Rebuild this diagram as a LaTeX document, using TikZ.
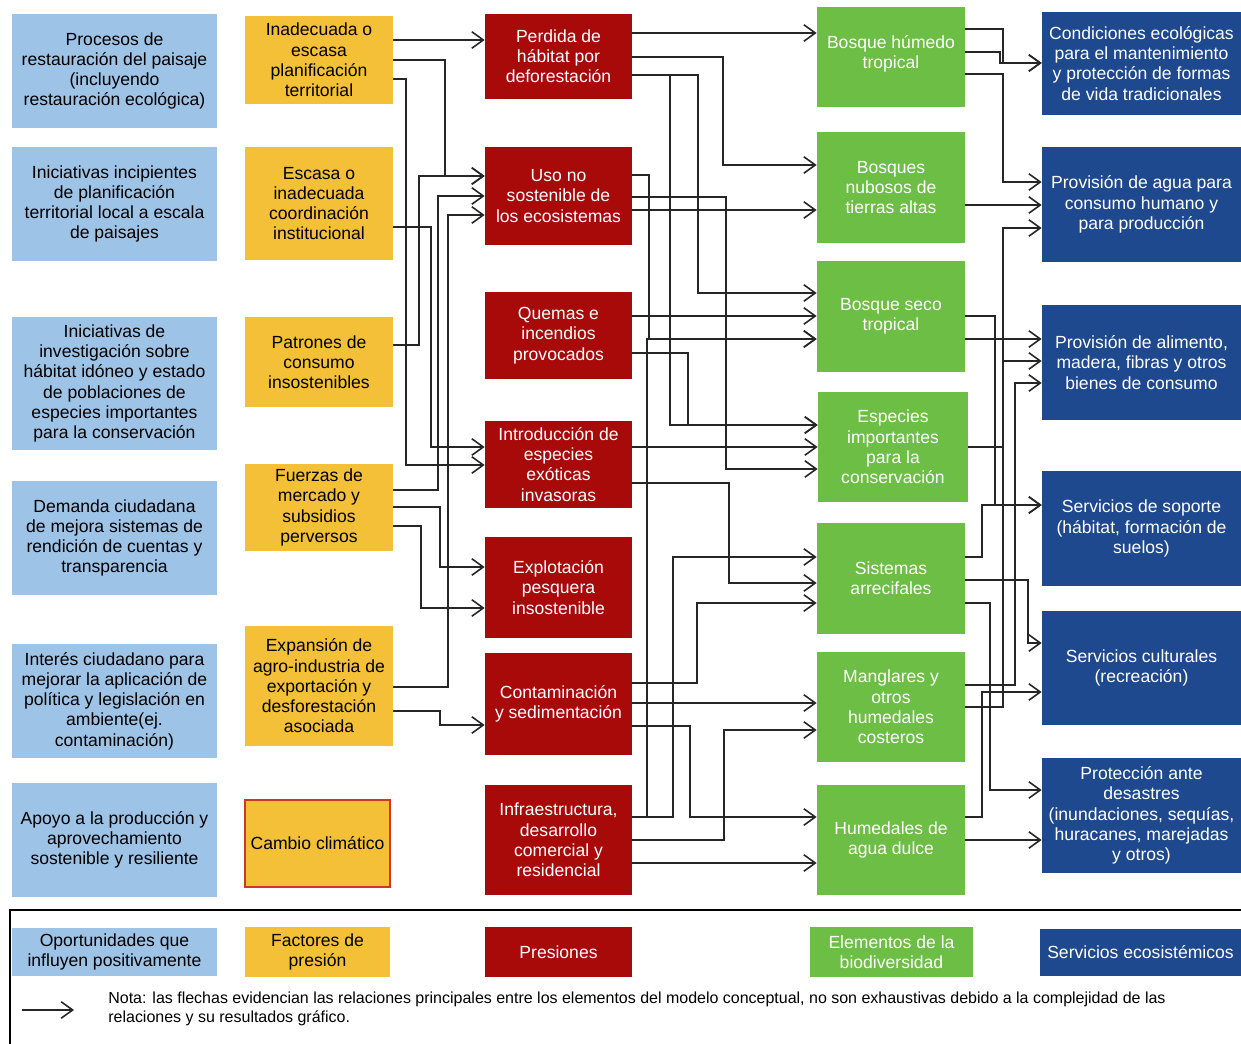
\documentclass[tikz,border=0pt]{standalone}
\usepackage{fontspec}
\setsansfont{Liberation Sans}
\usetikzlibrary{arrows.meta}

\definecolor{oppblue}{RGB}{157,195,230}
\definecolor{facyellow}{RGB}{244,192,55}
\definecolor{presred}{RGB}{168,10,10}
\definecolor{biogreen}{RGB}{108,190,69}
\definecolor{servblue}{RGB}{31,73,142}
\definecolor{edgered}{RGB}{205,55,35}

\begin{document}
\begin{tikzpicture}[x=0.02cm,y=-0.02cm,font=\sffamily\fontsize{10}{11.5}\selectfont,
    box/.style={align=center,inner sep=1pt},
    opp/.style={box,fill=oppblue,minimum width=4.1cm},
    fac/.style={box,fill=facyellow,minimum width=2.96cm},
    pres/.style={box,fill=presred,text=white,minimum width=2.94cm},
    bio/.style={box,fill=biogreen,text=white,minimum width=2.96cm},
    serv/.style={box,fill=servblue,text=white,minimum width=3.98cm},
    link/.style={draw=black!85,line width=0.9pt,-{Straight Barb[length=2.3mm,width=3.3mm]}}]
    \useasboundingbox (0,0) rectangle (1241,1044);

    % oportunidades
    \node[opp,minimum height=2.28cm] (B1) at (114.5,71) {Procesos de\\restauración del paisaje\\(incluyendo\\restauración ecológica)};
    \node[opp,minimum height=2.28cm] (B2) at (114.5,204) {Iniciativas incipientes\\de planificación\\territorial local a escala\\de paisajes};
    \node[opp,minimum height=2.66cm] (B3) at (114.5,383.5) {Iniciativas de\\investigación sobre\\hábitat idóneo y estado\\de poblaciones de\\especies importantes\\para la conservación};
    \node[opp,minimum height=2.28cm] (B4) at (114.5,538) {Demanda ciudadana\\de mejora sistemas de\\rendición de cuentas y\\transparencia};
    \node[opp,minimum height=2.28cm] (B5) at (114.5,701) {Interés ciudadano para\\mejorar la aplicación de\\política y legislación en\\ambiente(ej.\\contaminación)};
    \node[opp,minimum height=2.28cm] (B6) at (114.5,840) {Apoyo a la producción y\\aprovechamiento\\sostenible y resiliente};

    % factores de presion
    \node[fac,minimum height=1.76cm] (Y1) at (319,60) {Inadecuada o\\escasa\\planificación\\territorial};
    \node[fac,minimum height=2.26cm] (Y2) at (319,203.5) {Escasa o\\inadecuada\\coordinación\\institucional};
    \node[fac,minimum height=1.8cm] (Y3) at (319,362) {Patrones de\\consumo\\insostenibles};
    \node[fac,minimum height=1.74cm] (Y4) at (319,507.5) {Fuerzas de\\mercado y\\subsidios\\perversos};
    \node[fac,minimum height=2.4cm] (Y5) at (319,686) {Expansión de\\agro-industria de\\exportación y\\desforestación\\asociada};
    \node[fac,draw=edgered,line width=1pt,minimum width=2.9cm,minimum height=1.74cm] (Y6) at (317.5,843.5) {Cambio climático};

    % presiones
    \node[pres,minimum height=1.7cm] (R1) at (558.5,56.5) {Perdida de\\hábitat por\\deforestación};
    \node[pres,minimum height=1.96cm] (R2) at (558.5,196) {Uso no\\sostenible de\\los ecosistemas};
    \node[pres,minimum height=1.74cm] (R3) at (558.5,335.5) {Quemas e\\incendios\\provocados};
    \node[pres,minimum height=1.74cm] (R4) at (558.5,464.5) {Introducción de\\especies\\exóticas\\invasoras};
    \node[pres,minimum height=2.02cm] (R5) at (558.5,587.5) {Explotación\\pesquera\\insostenible};
    \node[pres,minimum height=2.04cm] (R6) at (558.5,704) {Contaminación\\y sedimentación};
    \node[pres,minimum height=2.2cm] (R7) at (558.5,840) {Infraestructura,\\desarrollo\\comercial y\\residencial};

    % elementos de la biodiversidad
    \node[bio,minimum height=2cm] (G1) at (891,57) {Bosque húmedo\\tropical\\[-0.6em]};
    \node[bio,minimum height=2.22cm] (G2) at (891,187.5) {Bosques\\nubosos de\\tierras altas};
    \node[bio,minimum height=2.22cm] (G3) at (891,316.5) {Bosque seco\\tropical};
    \node[bio,minimum width=3cm,minimum height=2.2cm] (G4) at (893,447) {Especies\\importantes\\para la\\conservación};
    \node[bio,minimum height=2.22cm] (G5) at (891,578.5) {Sistemas\\arrecifales};
    \node[bio,minimum height=2.2cm] (G6) at (891,707) {Manglares y\\otros\\humedales\\costeros};
    \node[bio,minimum height=2.2cm] (G7) at (891,840) {Humedales de\\agua dulce};

    % servicios ecosistemicos
    \node[serv,minimum height=2.06cm] (D1) at (1141.5,63.5) {Condiciones ecológicas\\para el mantenimiento\\y protección de formas\\de vida tradicionales};
    \node[serv,minimum height=2.3cm] (D2) at (1141.5,204.5) {Provisión de agua para\\consumo humano y\\para producción};
    \node[serv,minimum height=2.3cm] (D3) at (1141.5,362.5) {Provisión de alimento,\\madera, fibras y otros\\bienes de consumo};
    \node[serv,minimum height=2.3cm] (D4) at (1141.5,528.5) {Servicios de soporte\\(hábitat, formación de\\suelos)};
    \node[serv,minimum height=2.28cm] (D5) at (1141.5,668) {Servicios culturales\\(recreación)};
    \node[serv,minimum height=2.3cm] (D6) at (1141.5,815.5) {Protección ante\\desastres\\(inundaciones, sequías,\\huracanes, marejadas\\y otros)};

    % flechas rectas
    \foreach \a/\b/\y in {Y1/R1/40, R1/G1/33, R2/G2/210, R3/G3/316, R4/G4/447,
        R6/G6/703, R7/G7/863, G2/D2/205, G3/D3/339, G7/D6/840}
        \draw[link] (\a.east |- 0,\y) -- (\b.west |- 0,\y);

    % flechas con codo
    \foreach \a/\ya/\x/\b/\yb in {Y1/60/445/R2/176, Y1/79/406/R4/465, Y2/227/431/R4/447,
        Y3/345/419/R2/176, Y4/490/438/R2/196, Y4/507/440/R5/567, Y4/526/421/R5/608,
        Y5/687/448/R2/215, Y5/711/440/R6/725,
        R1/57/723/G2/165, R1/75/698/G3/293, R1/75/670/G4/425, R2/175/649/G3/339,
        R2/197/726/G4/469, R3/353/688/G4/425, R4/483/729/G5/583, R6/683/697/G5/603,
        R6/726/690/G7/817, R7/817/647/G3/339, R7/817/673/G5/557, R7/840/724/G6/730,
        G1/29/1003/D1/63, G1/52/1000/D1/63, G1/74/1003/D2/182, G6/707/1003/D2/228,
        G3/316/995/D4/505, G4/447/1003/D3/361, G6/685/1015/D3/383, G5/557/982/D4/505,
        G5/580/1028/D5/643, G5/603/990/D6/790, G7/817/982/D5/692}
        \draw[link] (\a.east |- 0,\ya) -| (\x,\yb) -- (\b.west |- 0,\yb);

    % leyenda
    \draw[line width=0.8pt] (1241,910) -- (10,910) -- (10,1044);
    \node[opp,minimum height=0.96cm] (L1) at (114.5,952) {Oportunidades que\\influyen positivamente};
    \node[fac,minimum width=2.9cm,minimum height=1cm] (L2) at (317.5,952) {Factores de\\presión};
    \node[pres,minimum height=1cm] (L3) at (558.5,952) {Presiones};
    \node[bio,minimum width=3.26cm,minimum height=1cm] (L4) at (891.5,952) {Elementos de la\\biodiversidad};
    \node[serv,minimum width=4.02cm,minimum height=0.94cm] (L5) at (1140.5,952.5) {Servicios ecosistémicos};
    \coordinate (la) at (22,1010);
    \coordinate (lb) at (74,1010);
    \draw[link] (la) -- (lb);
    \node[anchor=west,align=left,inner sep=0pt,font=\sffamily\fontsize{9.1}{10.6}\selectfont] (nota) at (108,1009) {Nota: las flechas evidencian las relaciones principales entre los elementos del modelo conceptual, no son exhaustivas debido a la complejidad de las\\relaciones y su resultados gráfico.};
\end{tikzpicture}
\end{document}
